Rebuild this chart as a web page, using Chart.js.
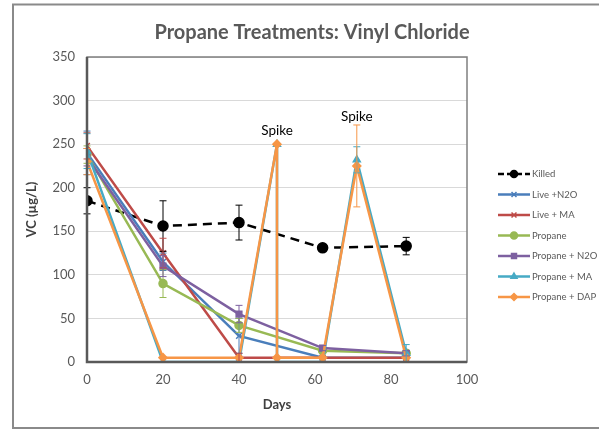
<!DOCTYPE html>
<html>
<head>
<meta charset="utf-8">
<script src="https://cdn.jsdelivr.net/npm/chart.js@4.4.1/dist/chart.umd.min.js"></script>
<style>
  html, body { margin: 0; padding: 0; background: #fff; }
  #wrap { width: 599px; height: 429px; }
</style>
</head>
<body>
<div id="wrap"><canvas id="vcChart" width="599" height="429"></canvas></div>
<script>
// sampling days and VC concentrations (ug/L)
const killedDays = [0, 20, 40, 62, 84];
const killedVC = [185, 156, 160, 131, 133];
const killedErr = [15, 29, 20, 3, 10];

const liveDays = [0, 20, 40, 62, 84];
const liveN2O = [240, 115, 30, 5, 5];
const liveN2OErr = [25, 10, 20, 0, 0];
const liveMA = [248, 125, 5, 5, 5];
const liveMAErr = [15, 17, 5, 0, 0];

const propaneDays = [0, 20, 40, 62, 84];
const propane = [238, 90, 42, 13, 10];
const propaneErr = [10, 16, 8, 0, 0];
const propaneN2O = [235, 110, 55, 16, 10];
const propaneN2OErr = [10, 12, 10, 3, 3];

// spiked treatments: day 50 appears twice (before / after drop)
const spikeDays = [0, 20, 40, 50, 50, 62, 71, 84];
const propaneMA = [242, 0, 0, 250, 0, 0, 232, 10];
const propaneMAErr = [20, 0, 0, 0, 0, 0, 15, 10];
const propaneDAP = [230, 5, 5, 250, 5, 5, 225, 5];
const propaneDAPErr = [15, 0, 0, 0, 0, 0, 47, 0];

const spikeLabelDays = [50, 71];
const spikeLabelVC = [265, 281];

const xTicks = [0, 20, 40, 60, 80, 100];
const yTicks = [0, 50, 100, 150, 200, 250, 300, 350];

const FONT = 'Lato, "Open Sans", sans-serif';

function pts(days, vals) {
  return days.map((d, i) => ({ x: d, y: vals[i] }));
}

function series(label, days, vals, errs, color, style, order, extra) {
  return Object.assign({
    label: label,
    data: pts(days, vals),
    errors: errs,
    borderColor: color,
    backgroundColor: color,
    borderWidth: 2.5,
    pointStyle: style,
    pointRadius: 4,
    pointBorderWidth: 1.5,
    pointBorderColor: color,
    pointBackgroundColor: color,
    order: order,
    tension: 0
  }, extra || {});
}

const datasets = [
  series('Killed', killedDays, killedVC, killedErr, '#000000', 'circle', 7,
    { borderDash: [9, 6], borderWidth: 2.5, pointRadius: 5 }),
  series('Live +N2O', liveDays, liveN2O, liveN2OErr, '#4a7ebb', 'crossRot', 6),
  series('Live + MA', liveDays, liveMA, liveMAErr, '#be4b48', 'crossRot', 5),
  series('Propane', propaneDays, propane, propaneErr, '#98b954', 'circle', 4),
  series('Propane + N2O', propaneDays, propaneN2O, propaneN2OErr, '#7d60a0', 'rect', 3),
  series('Propane + MA', spikeDays, propaneMA, propaneMAErr, '#46aac5', 'triangle', 2),
  series('Propane + DAP', spikeDays, propaneDAP, propaneDAPErr, '#f79646', 'rectRot', 1)
];

// frame, title, error bars, spike notes and the legend on the right
const decor = {
  id: 'decor',
  beforeDraw(chart) {
    const ctx = chart.ctx;
    ctx.save();
    ctx.fillStyle = '#ffffff';
    ctx.fillRect(0, 0, chart.width, chart.height);
    ctx.strokeStyle = '#8a8a8a';
    ctx.lineWidth = 2;
    ctx.strokeRect(13, 4.5, chart.width + 20, 423.5);
    ctx.fillStyle = '#595959';
    ctx.font = 'bold 20px ' + FONT;
    ctx.textAlign = 'center';
    ctx.textBaseline = 'middle';
    ctx.fillText('Propane Treatments: Vinyl Chloride', 312, 33);
    ctx.restore();
  },
  afterDatasetsDraw(chart) {
    const ctx = chart.ctx;
    const xs = chart.scales.x, ys = chart.scales.y;
    ctx.save();
    chart.data.datasets.forEach(ds => {
      ctx.strokeStyle = ds.borderColor;
      ctx.lineWidth = 1;
      ds.data.forEach((p, i) => {
        const e = ds.errors[i];
        if (!e) return;
        const px = xs.getPixelForValue(p.x);
        const top = ys.getPixelForValue(p.y + e);
        const bot = ys.getPixelForValue(Math.max(p.y - e, 0));
        ctx.beginPath();
        ctx.moveTo(px, top); ctx.lineTo(px, bot);
        ctx.moveTo(px - 3.5, top); ctx.lineTo(px + 3.5, top);
        ctx.moveTo(px - 3.5, bot); ctx.lineTo(px + 3.5, bot);
        ctx.stroke();
      });
    });
    // plot area outline
    const a = chart.chartArea;
    ctx.strokeStyle = '#7f7f7f';
    ctx.lineWidth = 1.5;
    ctx.strokeRect(a.left, a.top, a.right - a.left, a.bottom - a.top);
    ctx.strokeStyle = '#595959';
    ctx.lineWidth = 2.5;
    ctx.beginPath();
    ctx.moveTo(a.left, a.top); ctx.lineTo(a.left, a.bottom); ctx.lineTo(a.right, a.bottom);
    ctx.stroke();

    ctx.fillStyle = '#000000';
    ctx.font = '13.5px ' + FONT;
    ctx.textAlign = 'center';
    ctx.textBaseline = 'middle';
    spikeLabelDays.forEach((d, i) => {
      ctx.fillText('Spike', xs.getPixelForValue(d), ys.getPixelForValue(spikeLabelVC[i]));
    });
    ctx.restore();
  },
  afterDraw(chart) {
    const ctx = chart.ctx;
    const x0 = 498, x1 = 530;
    ctx.save();
    ctx.font = '9.5px ' + FONT;
    ctx.textBaseline = 'middle';
    chart.data.datasets.forEach((ds, i) => {
      const y = 174 + i * 20.5;
      ctx.strokeStyle = ds.borderColor;
      ctx.fillStyle = ds.borderColor;
      ctx.lineWidth = 2.5;
      ctx.setLineDash(i === 0 ? [6, 3] : []);
      ctx.beginPath();
      ctx.moveTo(x0, y); ctx.lineTo(x1, y);
      ctx.stroke();
      ctx.setLineDash([]);
      ctx.lineWidth = 1.5;
      Chart.helpers.drawPoint(ctx, {
        pointStyle: ds.pointStyle,
        radius: 3.5,
        rotation: 0,
        borderWidth: 1.5
      }, (x0 + x1) / 2, y);
      ctx.fillStyle = '#595959';
      ctx.fillText(ds.label, x1 + 2, y);
    });
    ctx.restore();
  }
};

new Chart(document.getElementById('vcChart'), {
  type: 'line',
  data: { datasets: datasets },
  plugins: [decor],
  options: {
    responsive: false,
    animation: false,
    layout: { padding: { left: 13, top: 57, right: 132, bottom: 0 } },
    plugins: {
      legend: { display: false },
      tooltip: { enabled: false },
      title: { display: false }
    },
    scales: {
      x: {
        type: 'linear',
        min: 0,
        max: 100,
        afterBuildTicks(scale) { scale.ticks = xTicks.map(v => ({ value: v })); },
        afterFit(scale) { scale.height = 67; },
        grid: { display: false, drawTicks: false },
        border: { display: false },
        ticks: { color: '#595959', font: { family: FONT, size: 13 }, padding: 10 },
        title: {
          display: true,
          text: 'Days',
          color: '#404040',
          font: { family: FONT, size: 13, weight: 'bold' },
          padding: { top: 0, bottom: 16 }
        }
      },
      y: {
        min: 0,
        max: 350,
        afterBuildTicks(scale) { scale.ticks = yTicks.map(v => ({ value: v })); },
        afterFit(scale) { scale.width = 74; },
        grid: { color: '#d9d9d9', lineWidth: 1, drawTicks: false },
        border: { display: false },
        ticks: { color: '#595959', font: { family: FONT, size: 13 }, padding: 12 },
        title: {
          display: true,
          text: 'VC (µg/L)',
          color: '#404040',
          font: { family: FONT, size: 13, weight: 'bold' },
          padding: { top: 11, bottom: 0 }
        }
      }
    }
  }
});
</script>
</body>
</html>
